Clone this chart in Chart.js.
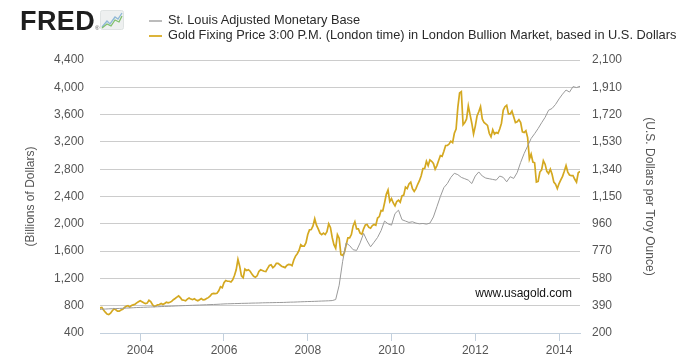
<!DOCTYPE html>
<html lang="en">
<head>
<meta charset="UTF-8">
<title>Monetary Base vs Gold</title>
<script src="https://cdn.jsdelivr.net/npm/chart.js@4.4.1/dist/chart.umd.min.js"></script>
<style>
  body { margin: 0; background: #fff; font-family: "Liberation Sans", Arial, sans-serif; }
  #page { position: relative; width: 694px; height: 360px; overflow: hidden; }
  #box { position: absolute; left: 0; top: 0; width: 694px; height: 360px; }
  .logo { position: absolute; left: 20px; top: 7px; height: 28px; }
  .logo .txt { position: absolute; left: 0; top: 0; font-size: 27px; font-weight: bold; letter-spacing: 0.4px; color: #1e1e1e; line-height: 28px; }
  .logo .reg { position: absolute; left: 75px; top: 18px; font-size: 6px; color: #555; }
  .logo svg { position: absolute; left: 80px; top: 3px; }
  .legend { position: absolute; left: 149px; top: 12px; font-size: 12.8px; color: #2a2a2a; line-height: 15px; }
  .legend div { white-space: nowrap; }
  .legend span { display: inline-block; width: 13px; height: 2px; vertical-align: middle; margin-right: 6px; }
</style>
</head>
<body>
<div id="page">
  <div id="box"><canvas id="grafico"></canvas></div>
  <div class="logo">
    <div class="txt">FRED</div>
    <div class="reg">&reg;</div>
    <svg width="24" height="20" viewBox="0 0 24 20">
      <rect x="0.5" y="0.5" width="23" height="19" rx="2" fill="#eef0f0" stroke="#dfe3e3"/>
      <polyline points="2,17 7,11 10,14 15,7 18,9 22,3" fill="none" stroke="#8fb8d6" stroke-width="1.3"/>
      <polyline points="2,18 7,14 11,16 15,10 19,12 22,6" fill="none" stroke="#7fbf6a" stroke-width="1.3"/>
    </svg>
  </div>
  <div class="legend">
    <div><span style="background:#bcbcbc"></span>St. Louis Adjusted Monetary Base</div>
    <div><span style="background:#dcb43a"></span>Gold Fixing Price 3:00 P.M. (London time) in London Bullion Market, based in U.S. Dollars</div>
  </div>
</div>

<script>
// base monetaria mensual (miles de millones), ene 2003 - jul 2014
const baseStart = 2003;
const baseValues = [
  745, 748, 751, 754, 756, 758, 760, 762, 765, 767, 770, 773,
  775, 777, 779, 781, 783, 785, 787, 789, 791, 793, 796, 798,
  800, 802, 804, 806, 808, 810, 812, 814, 816, 818, 820, 823,
  826, 828, 829, 831, 832, 834, 835, 836, 838, 839, 840, 842,
  843, 844, 845, 846, 847, 848, 850, 852, 853, 855, 857, 859,
  861, 862, 864, 866, 868, 870, 872, 875, 890, 1100, 1450, 1720,
  1680, 1620, 1610, 1720, 1860, 1750, 1663, 1730, 1800, 1900, 2040, 2000,
  1980, 2150, 2200, 2060, 2040, 2020, 2030, 2010, 2000, 2005, 1995, 2010,
  2100, 2250, 2400, 2530, 2590, 2680, 2740, 2720, 2680, 2660, 2640, 2590,
  2700, 2760, 2700, 2670, 2660, 2650, 2640, 2700, 2680, 2615, 2690, 2665,
  2750, 2900, 3030, 3140, 3250, 3320, 3396, 3480, 3560, 3664, 3690, 3750,
  3830, 3900, 3960, 3930, 4010, 3996, 4015
];

// oro, dos lecturas por mes (USD por onza), ene 2003 - jul 2014
const goldStart = 2003;
const goldValues = [
  360, 375, 378, 360, 345, 332, 328, 338, 355, 368, 362, 352, 352, 360, 365, 378, 386, 390, 380, 392, 396, 400, 410, 418,
  425, 418, 410, 405, 408, 428, 418, 398, 385, 390, 396, 398, 405, 398, 405, 414, 410, 414, 420, 432, 440, 450, 458, 446,
  430, 428, 424, 436, 444, 436, 432, 438, 430, 424, 432, 440, 430, 432, 440, 446, 456, 472, 476, 474, 476, 494, 522, 515,
  550, 565, 560, 560, 555, 570, 600, 640, 712, 665, 598, 585, 645, 635, 640, 630, 610, 595, 588, 598, 628, 640, 635, 630,
  628, 650, 670, 675, 655, 665, 685, 685, 675, 665, 660, 655, 670, 678, 676, 668, 708, 735, 752, 775, 815, 805, 805, 828,
  885, 918, 920, 945, 995, 950, 925, 895, 885, 895, 885, 905, 960, 935, 865, 815, 790, 885, 860, 745, 740, 760, 812, 862,
  862, 885, 945, 975, 925, 925, 895, 888, 925, 952, 955, 935, 930, 948, 955, 950, 1000, 1010, 1052, 1050, 1105, 1165, 1195, 1115,
  1135, 1105, 1085, 1115, 1125, 1110, 1155, 1160, 1215, 1205, 1238, 1250, 1205, 1185, 1205, 1235, 1260, 1295, 1345, 1345, 1395, 1365, 1405, 1395,
  1380, 1340, 1365, 1400, 1435, 1430, 1465, 1505, 1505, 1515, 1535, 1525, 1590, 1620, 1770, 1870, 1880, 1650, 1665, 1690, 1780, 1720, 1660, 1585,
  1640, 1710, 1740, 1775, 1690, 1665, 1655, 1645, 1590, 1565, 1615, 1585, 1595, 1590, 1620, 1660, 1750, 1775, 1785, 1725, 1725, 1745, 1705, 1665,
  1670, 1685, 1665, 1600, 1595, 1608, 1560, 1410, 1445, 1390, 1385, 1250, 1255, 1320, 1335, 1400, 1375, 1325, 1310, 1340, 1305, 1250, 1235, 1205,
  1240, 1265, 1290, 1325, 1365, 1320, 1300, 1295, 1295, 1270, 1250, 1315, 1325
];

const yearTicks = [2004, 2006, 2008, 2010, 2012, 2014];
const leftTicks = [400, 800, 1200, 1600, 2000, 2400, 2800, 3200, 3600, 4000, 4400];
const rightTicks = [200, 390, 580, 770, 960, 1150, 1340, 1530, 1720, 1910, 2100];

const puntosBase = baseValues.map((v, i) => ({ x: baseStart + i / 12, y: v }));
const puntosOro = goldValues.map((v, i) => ({ x: goldStart + i / 24, y: v }));

const colorTexto = '#555555';
const colorEje = '#c3d0dd';

// marca de agua
const marcaAgua = {
  id: 'marcaAgua',
  afterDatasetsDraw(chart) {
    const { ctx, chartArea } = chart;
    ctx.save();
    ctx.font = '12px "Liberation Sans", Arial, sans-serif';
    ctx.fillStyle = '#111';
    ctx.textAlign = 'right';
    ctx.textBaseline = 'middle';
    ctx.fillText('www.usagold.com', chartArea.right - 8, 294);
    ctx.restore();
  }
};

Chart.defaults.font.family = '"Liberation Sans", Arial, sans-serif';
Chart.defaults.font.size = 12;
Chart.defaults.color = colorTexto;

new Chart(document.getElementById('grafico'), {
  type: 'line',
  data: {
    datasets: [
      {
        label: 'St. Louis Adjusted Monetary Base',
        data: puntosBase,
        yAxisID: 'y',
        borderColor: '#9a9a9a',
        borderWidth: 1,
        pointRadius: 0,
        tension: 0
      },
      {
        label: 'Gold Fixing Price 3:00 P.M. (London time) in London Bullion Market, based in U.S. Dollars',
        data: puntosOro,
        yAxisID: 'y2',
        borderColor: '#d4a820',
        borderWidth: 1.7,
        pointRadius: 0,
        tension: 0
      }
    ]
  },
  options: {
    responsive: true,
    maintainAspectRatio: false,
    animation: false,
    layout: { padding: { top: 60, left: 0, right: 0, bottom: 0 } },
    plugins: {
      legend: { display: false },
      tooltip: { enabled: false }
    },
    scales: {
      x: {
        type: 'linear',
        min: 2003.04,
        max: 2014.5,
        afterBuildTicks: s => { s.ticks = yearTicks.map(v => ({ value: v })); },
        afterFit: s => { s.height = 27; },
        ticks: {
          padding: 2,
          maxRotation: 0,
          autoSkip: false,
          callback: v => String(v)
        },
        grid: { drawOnChartArea: false, drawTicks: true, tickLength: 8, color: colorEje },
        border: { color: colorEje }
      },
      y: {
        position: 'left',
        min: 400,
        max: 4400,
        afterBuildTicks: s => { s.ticks = leftTicks.map(v => ({ value: v })); },
        afterFit: s => { s.width = 100; },
        ticks: { padding: 16, callback: v => v.toLocaleString('en-US') },
        grid: { color: '#cccccc', drawTicks: false },
        border: { display: false },
        title: { display: true, text: '(Billions of Dollars)', padding: { top: 23, bottom: 0 } }
      },
      y2: {
        position: 'right',
        min: 200,
        max: 2100,
        afterBuildTicks: s => { s.ticks = rightTicks.map(v => ({ value: v })); },
        afterFit: s => { s.width = 114; },
        ticks: { padding: 12, callback: v => v.toLocaleString('en-US') },
        grid: { display: false, drawTicks: false },
        border: { display: false },
        title: { display: true, text: '(U.S. Dollars per Troy Ounce)', padding: { top: 37, bottom: 0 } }
      }
    }
  },
  plugins: [marcaAgua]
});
</script>
</body>
</html>
